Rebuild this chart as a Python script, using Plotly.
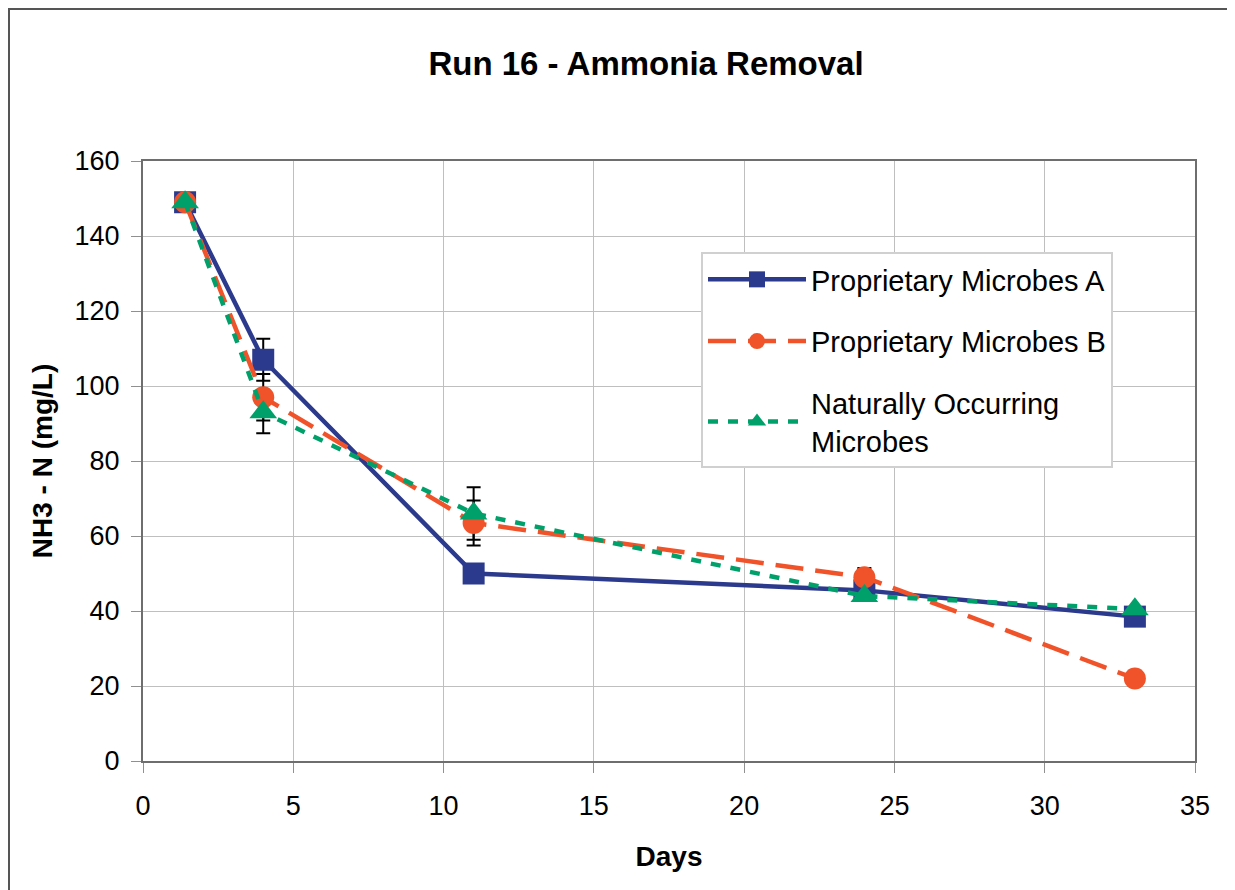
import plotly.graph_objects as go

# data
days = [1.4, 4, 11, 24, 33]
microbes_a = [149, 107, 50, 45.5, 38.5]
microbes_b = [149, 97, 63.5, 49, 22]
microbes_c = [149, 93, 66, 44, 40.5]

# error bar half-widths (None = no bar)
err_a = [None, 5.6, None, None, None]
err_b = [None, 6.2, 6.0, 2.5, None]
err_c = [None, 5.6, 7.0, None, None]

names = ["Proprietary Microbes A", "Proprietary Microbes B",
         "Naturally Occurring<br>Microbes"]

COLORS = {
    "a": "#2B3A8C",
    "b": "#F05329",
    "c": "#00A06B",
    "grid": "#BFBFBF",
    "axis": "#6E6E6E",
}

# page body has an 8px margin, so the figure starts at (8, 8) of the window
OFF = 8
W, H = 1235 - OFF, 890 - OFF
L, R, T, B = 143 - OFF, 40, 161 - OFF, 129
pw, ph = W - L - R, H - T - B


def px2paper(x=None, y=None):
    # window pixel -> paper coordinate
    if x is not None:
        return (x - OFF - L) / pw
    return (H - B - (y - OFF)) / ph


fig = go.Figure()

# error bars first so the markers sit on top
for vals, errs in [(microbes_a, err_a), (microbes_b, err_b), (microbes_c, err_c)]:
    fig.add_trace(go.Scatter(
        x=days, y=vals, mode="markers",
        marker=dict(size=1, color="rgba(0,0,0,0)"),
        error_y=dict(type="data", array=errs, symmetric=True,
                     color="black", thickness=2, width=7),
        showlegend=False, hoverinfo="skip",
    ))

fig.add_trace(go.Scatter(
    x=days, y=microbes_a, mode="lines+markers", name=names[0], legendgroup="a",
    line=dict(color=COLORS["a"], width=4.5),
    marker=dict(symbol="square", size=22, color=COLORS["a"]),
))
fig.add_trace(go.Scatter(
    x=days, y=microbes_b, mode="lines+markers", name=names[1], legendgroup="b",
    line=dict(color=COLORS["b"], width=4.5, dash="28px,12px"),
    marker=dict(symbol="circle", size=22, color=COLORS["b"]),
))
fig.add_trace(go.Scatter(
    x=days, y=microbes_c, mode="lines+markers", name=names[2], legendgroup="c",
    line=dict(color=COLORS["c"], width=4.5, dash="10px,10px"),
    marker=dict(symbol="triangle-up", size=24, color=COLORS["c"]),
))

# outer chart frame (top and left edges)
shapes = [
    dict(type="line", xref="paper", yref="paper", layer="below",
         x0=px2paper(x=OFF), x1=px2paper(x=1240), y0=px2paper(y=OFF + 1), y1=px2paper(y=OFF + 1),
         line=dict(color="#555555", width=2)),
    dict(type="line", xref="paper", yref="paper", layer="below",
         x0=px2paper(x=OFF + 1), x1=px2paper(x=OFF + 1), y0=px2paper(y=OFF), y1=px2paper(y=900),
         line=dict(color="#555555", width=2)),
]

fig.update_layout(
    width=W, height=H,
    margin=dict(l=L, r=R, t=T, b=B),
    paper_bgcolor="white",
    plot_bgcolor="white",
    font=dict(family="Arial, Liberation Sans, sans-serif", color="black", size=27),
    title=dict(text="<b>Run 16 - Ammonia Removal</b>", x=0.52, xanchor="center",
               y=1 - (63 - OFF) / H, yanchor="middle", font=dict(size=33)),
    shapes=shapes,
    showlegend=True,
    legend=dict(
        x=px2paper(x=701), y=px2paper(y=252), xanchor="left", yanchor="top",
        bgcolor="white", bordercolor="#D0D0D0", borderwidth=2,
        font=dict(size=29), itemwidth=98, tracegroupgap=21,
        traceorder="grouped",
    ),
)

fig.update_xaxes(
    range=[0, 35], dtick=5, showgrid=True, gridcolor=COLORS["grid"], gridwidth=1,
    showline=True, linecolor=COLORS["axis"], linewidth=2, mirror=True,
    ticks="outside", ticklen=10, tickcolor="#909090", ticklabelstandoff=10,
    zeroline=False,
    title=dict(text="<b>Days</b>", font=dict(size=28), standoff=26),
)
fig.update_yaxes(
    range=[0, 160], dtick=20, showgrid=True, gridcolor=COLORS["grid"], gridwidth=1,
    showline=True, linecolor=COLORS["axis"], linewidth=2, mirror=True,
    ticks="outside", ticklen=10, tickcolor="#909090", ticklabelstandoff=6,
    zeroline=False,
    title=dict(text="<b>NH3 - N (mg/L)</b>", font=dict(size=28), standoff=14),
)

fig.write_html("out.html")
